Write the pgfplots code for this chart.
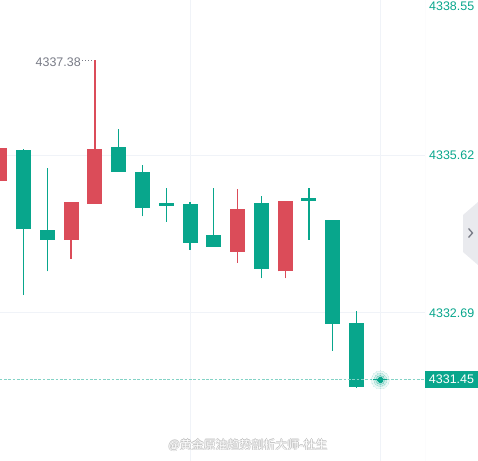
\documentclass[border=0pt]{standalone}
\usepackage{pgfplots}
\pgfplotsset{compat=1.18}
\usepackage{pgfplotstable}
\usepackage{fontspec}
\setmainfont{Liberation Sans}
\newfontfamily\cjk{Noto Sans CJK SC}
\definecolor{cgreen}{RGB}{8,166,140}
\definecolor{cred}{RGB}{219,76,89}
\definecolor{cgrid}{RGB}{240,243,248}
\definecolor{cline}{RGB}{228,230,236}
\definecolor{cgray}{RGB}{120,123,134}
\definecolor{ctab}{RGB}{233,234,238}

% index open high low close
\pgfplotstableread{
x o h l c
0 4335.13 4335.75 4335.13 4335.75
3 4334.05 4334.75 4333.70 4334.75
4 4334.72 4337.38 4334.72 4335.73
10 4333.83 4334.99 4333.62 4334.62
12 4333.46 4334.77 4333.33 4334.77
}\redtab
\pgfplotstableread{
x o h l c
1 4335.71 4335.74 4333.02 4334.24
2 4334.23 4335.38 4333.46 4334.05
5 4335.77 4336.10 4335.31 4335.31
6 4335.31 4335.44 4334.48 4334.64
7 4334.73 4335.01 4334.38 4334.68
8 4334.71 4334.75 4333.86 4333.99
9 4334.14 4335.01 4333.92 4333.92
11 4334.73 4334.86 4333.33 4333.51
13 4334.82 4335.01 4334.05 4334.77
14 4334.42 4334.42 4331.99 4332.49
15 4332.50 4332.73 4331.30 4331.32
}\greentab

\newcommand{\lbl}{\fontsize{12.5}{14}\selectfont}

\begin{document}
\begin{tikzpicture}
\useasboundingbox (0,0) rectangle (478bp,461bp);
\begin{axis}[
  at={(0,0)}, anchor=south west,
  scale only axis, width=425bp, height=461bp,
  xmin=0.01, xmax=17.88,
  ymin=4329.945, ymax=4338.495,
  axis line style={draw=none},
  major tick length=0pt,
  xtick={8,16}, xticklabels={},
  ytick={4332.69,4335.62}, yticklabels={4332.69,4335.62},
  yticklabel pos=right,
  yticklabel style={font=\lbl, text=cgreen, inner sep=0pt, xshift=4bp},
  xmajorgrids, ymajorgrids,
  grid style={draw=cgrid, line width=1bp},
]
% wicks
\addplot[draw=none, error bars/.cd, y dir=plus, y explicit, error mark=none,
  error bar style={draw=cred, line width=1.3bp}]
  table[x=x, y=l, y error plus expr={\thisrow{h}-\thisrow{l}}] {\redtab};
\addplot[draw=none, error bars/.cd, y dir=plus, y explicit, error mark=none,
  error bar style={draw=cgreen, line width=1.3bp}]
  table[x=x, y=l, y error plus expr={\thisrow{h}-\thisrow{l}}] {\greentab};
% bodies
\addplot[draw=none, error bars/.cd, y dir=plus, y explicit, error mark=none,
  error bar style={draw=cred, line width=15bp}]
  table[x=x, y expr={min(\thisrow{o},\thisrow{c})}, y error plus expr={abs(\thisrow{c}-\thisrow{o})}] {\redtab};
\addplot[draw=none, error bars/.cd, y dir=plus, y explicit, error mark=none,
  error bar style={draw=cgreen, line width=15bp}]
  table[x=x, y expr={min(\thisrow{o},\thisrow{c})}, y error plus expr={abs(\thisrow{c}-\thisrow{o})}] {\greentab};
% current price line and dot
\addplot[cgreen!50, line width=1bp, dash pattern=on 2.7bp off 1.6bp] coordinates {(0,4331.45) (17.88,4331.45)};
\addplot[only marks, color=cgreen, mark=*, mark size=9bp, opacity=0.08, mark options={line width=0pt}] coordinates {(16,4331.45)};
\addplot[only marks, color=cgreen, mark=*, mark size=6.5bp, opacity=0.12, mark options={line width=0pt}] coordinates {(16,4331.45)};
\addplot[only marks, color=cgreen, mark=*, mark size=4.5bp, opacity=0.2, mark options={line width=0pt}] coordinates {(16,4331.45)};
\addplot[cgreen, line width=1bp] coordinates {(15.7,4331.45) (16.3,4331.45)};
\addplot[only marks, color=cgreen, mark=*, mark size=2.6bp, mark options={line width=0pt}] coordinates {(16,4331.45)};
% max annotation
\node[anchor=east, text=cgray, font=\lbl, inner sep=0pt] at (axis cs:4,4337.38) [xshift=-14bp, yshift=-2.5bp] {4337.38};
\draw[cgray, line width=1bp, dash pattern=on 1bp off 2bp] ([xshift=-12.5bp]axis cs:4,4337.38) -- ([xshift=-1.5bp]axis cs:4,4337.38);
\draw[cline, line width=1bp] (rel axis cs:1,0) -- (rel axis cs:1,1);
\end{axis}
% top label
\node[anchor=west, text=cgreen, font=\lbl, inner sep=0pt] at (429bp,455bp) {4338.55};
% price box
\fill[cgreen] (425bp,72.5bp) rectangle (478bp,90bp);
\node[text=white, font=\lbl, inner sep=0pt] at (451.5bp,81.5bp) {4331.45};
% side tab
\fill[ctab] (463bp,246bp) -- (478bp,259bp) -- (478bp,196bp) -- (463bp,209bp) -- cycle;
\draw[cgray, line width=1.3bp] (468.5bp,232.5bp) -- (472.5bp,228bp) -- (468.5bp,223.5bp);
% watermark
\foreach \dx/\dy in {0.7/0,-0.7/0,0/0.7,0/-0.7}{
  \node[text=black!25, font=\cjk\fontsize{12}{14}\selectfont, inner sep=0pt] at ([xshift=\dx bp, yshift=\dy bp]248bp,16bp) {@黄金原油趋势剖析大师-杜生};
}
\node[text=white, font=\cjk\fontsize{12}{14}\selectfont, inner sep=0pt] at (248bp,16bp) {@黄金原油趋势剖析大师-杜生};
\end{tikzpicture}
\end{document}
